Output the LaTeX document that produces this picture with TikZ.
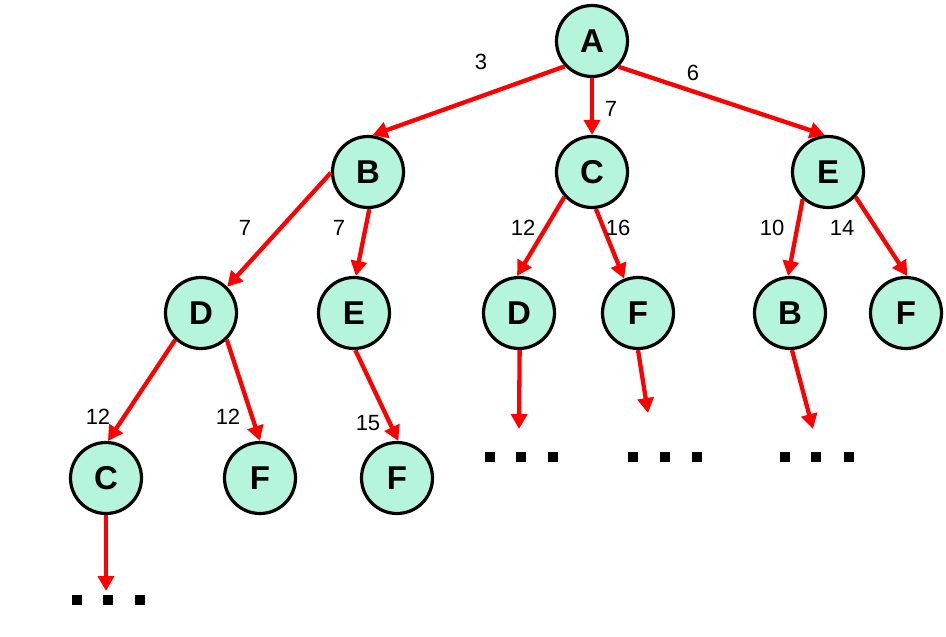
\documentclass[tikz,border=0pt]{standalone}
\usepackage{fontspec}
\setmainfont{Liberation Sans}
\usetikzlibrary{arrows.meta}
\definecolor{mint}{HTML}{B5F5DC}
\definecolor{ared}{HTML}{FF0000}
\tikzset{
  vnode/.style={circle, draw=black, line width=3.2pt, fill=mint, minimum size=71pt, inner sep=0pt,
    font=\fontsize{33}{33}\selectfont\bfseries},
  arr/.style={draw=ared, line width=4.3pt, -{Triangle[width=16pt,length=15pt]}},
  wlab/.style={font=\fontsize{22}{22}\selectfont, inner sep=0pt},
  dotsq/.style={fill=black, minimum size=9.5pt, inner sep=0pt, draw=none},
}
\begin{document}
\begin{tikzpicture}[x=1pt,y=-1pt]
\useasboundingbox (0,0) rectangle (946,637);
\node[vnode] (A) at (592,41) {A};
\node[vnode] (B) at (368,172) {B};
\node[vnode] (C) at (592,172) {C};
\node[vnode] (E) at (828,172) {E};
\node[vnode] (D) at (201,313) {D};
\node[vnode] (E2) at (354,313) {E};
\node[vnode] (D2) at (519,313) {D};
\node[vnode] (F) at (638,313) {F};
\node[vnode] (B2) at (790,313) {B};
\node[vnode] (F2) at (906,313) {F};
\node[vnode] (C2) at (106,478) {C};
\node[vnode] (F3) at (260,478) {F};
\node[vnode] (F4) at (397,478) {F};

\coordinate (t1) at (106,591);
\coordinate (t2) at (519,429);
\coordinate (t3) at (648,413);
\coordinate (t4) at (813,429);

\draw[arr] (A.223) -- (B.83);
\draw[arr] (A.270) -- (C.90);
\draw[arr] (A.316) -- (E.95);
\draw[arr] (B.181) -- (D.45);
\draw[arr] (B.272) -- (E2.87);
\draw[arr] (C.222) -- (D2.93);
\draw[arr] (C.276) -- (F.112);
\draw[arr] (E.227) -- (B2.93);
\draw[arr] (E.318) -- (F2.88);
\draw[arr] (D.226) -- (C2.87);
\draw[arr] (D.314) -- (F3.90);
\draw[arr] (E2.272) -- (F4.88);
\draw[arr] (C2.270) -- (t1);
\draw[arr] (D2.271) -- (t2);
\draw[arr] (F.270) -- (t3);
\draw[arr] (B2.273) -- (t4);

\node[wlab] (l1) at (481,62) {3};
\node[wlab] (l2) at (611,109) {7};
\node[wlab] (l3) at (693,73) {6};
\node[wlab] (l4) at (245,228) {7};
\node[wlab] (l5) at (339,228) {7};
\node[wlab] (l6) at (523,228) {12};
\node[wlab] (l7) at (618,228) {16};
\node[wlab] (l8) at (772,228) {10};
\node[wlab] (l9) at (842,228) {14};
\node[wlab] (l10) at (98,417) {12};
\node[wlab] (l11) at (228,417) {12};
\node[wlab] (l12) at (368,423) {15};

\foreach \n/\x/\y in {a1/77/600,a2/108/600,a3/140/600,
  b1/490/457,b2/521/457,b3/553/457,
  c1/633/457,c2/665/457,c3/697/457,
  d1/785/457,d2/816/457,d3/849/457}
  \node[dotsq] (\n) at (\x,\y) {};
\end{tikzpicture}
\end{document}
